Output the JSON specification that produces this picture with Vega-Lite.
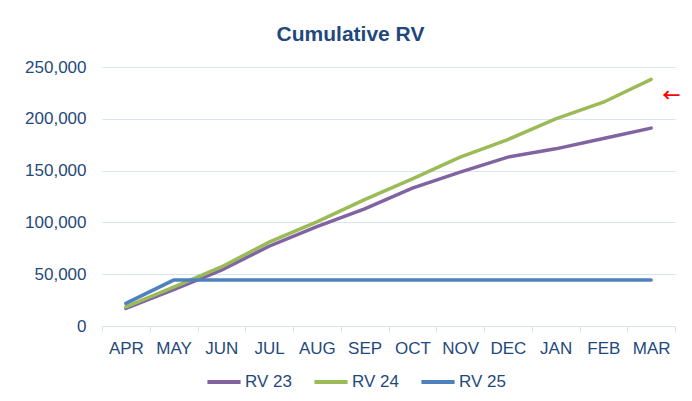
{
  "$schema": "https://vega.github.io/schema/vega-lite/v6.json",
  "autosize": {"type": "none"},
  "width": 573,
  "height": 259,
  "padding": {"left": 102, "top": 67, "right": 17, "bottom": 75},
  "background": "white",
  "title": {
    "text": "Cumulative RV",
    "font": "Liberation Sans",
    "fontSize": 21,
    "fontWeight": "bold",
    "color": "#1F497D",
    "baseline": "alphabetic",
    "offset": -4,
    "dx": -38
  },
  "config": {
    "view": {"stroke": null},
    "font": "Liberation Sans"
  },
  "data": {
    "values": [
      {"month": "APR", "series": "RV 23", "value": 17000},
      {"month": "MAY", "series": "RV 23", "value": 35000},
      {"month": "JUN", "series": "RV 23", "value": 54000},
      {"month": "JUL", "series": "RV 23", "value": 77000},
      {"month": "AUG", "series": "RV 23", "value": 96000},
      {"month": "SEP", "series": "RV 23", "value": 113000},
      {"month": "OCT", "series": "RV 23", "value": 133000},
      {"month": "NOV", "series": "RV 23", "value": 148500},
      {"month": "DEC", "series": "RV 23", "value": 163000},
      {"month": "JAN", "series": "RV 23", "value": 171000},
      {"month": "FEB", "series": "RV 23", "value": 181000},
      {"month": "MAR", "series": "RV 23", "value": 191000},
      {"month": "APR", "series": "RV 24", "value": 18500},
      {"month": "MAY", "series": "RV 24", "value": 37500},
      {"month": "JUN", "series": "RV 24", "value": 57000},
      {"month": "JUL", "series": "RV 24", "value": 81000},
      {"month": "AUG", "series": "RV 24", "value": 100500},
      {"month": "SEP", "series": "RV 24", "value": 122000},
      {"month": "OCT", "series": "RV 24", "value": 142000},
      {"month": "NOV", "series": "RV 24", "value": 163000},
      {"month": "DEC", "series": "RV 24", "value": 180000},
      {"month": "JAN", "series": "RV 24", "value": 200000},
      {"month": "FEB", "series": "RV 24", "value": 216000},
      {"month": "MAR", "series": "RV 24", "value": 238000},
      {"month": "APR", "series": "RV 25", "value": 21800},
      {"month": "MAY", "series": "RV 25", "value": 44300},
      {"month": "JUN", "series": "RV 25", "value": 44300},
      {"month": "JUL", "series": "RV 25", "value": 44300},
      {"month": "AUG", "series": "RV 25", "value": 44300},
      {"month": "SEP", "series": "RV 25", "value": 44300},
      {"month": "OCT", "series": "RV 25", "value": 44300},
      {"month": "NOV", "series": "RV 25", "value": 44300},
      {"month": "DEC", "series": "RV 25", "value": 44300},
      {"month": "JAN", "series": "RV 25", "value": 44300},
      {"month": "FEB", "series": "RV 25", "value": 44300},
      {"month": "MAR", "series": "RV 25", "value": 44300}
    ]
  },
  "layer": [
    {
      "mark": {"type": "line", "strokeWidth": 3.5, "strokeCap": "round"},
      "encoding": {
        "x": {
          "field": "month",
          "type": "nominal",
          "sort": ["APR", "MAY", "JUN", "JUL", "AUG", "SEP", "OCT", "NOV", "DEC", "JAN", "FEB", "MAR"],
          "scale": {"type": "band", "paddingInner": 0, "paddingOuter": 0},
          "axis": {
            "title": null,
            "labelAngle": 0,
            "labelFont": "Liberation Sans",
            "labelFontSize": 17,
            "labelColor": "#1F497D",
            "labelPadding": 8,
            "tickBand": "extent",
            "ticks": true,
            "tickSize": 6,
            "tickColor": "#D9E4F2",
            "domainColor": "#D9E4F2",
            "grid": false
          }
        },
        "y": {
          "field": "value",
          "type": "quantitative",
          "scale": {"domain": [0, 250000], "nice": false},
          "axis": {
            "title": null,
            "values": [0, 50000, 100000, 150000, 200000, 250000],
            "format": ",d",
            "labelFont": "Liberation Sans",
            "labelFontSize": 17,
            "labelColor": "#1F497D",
            "labelPadding": 16,
            "ticks": false,
            "domain": false,
            "gridColor": "#D9E4F2",
            "gridWidth": 1
          }
        },
        "color": {
          "field": "series",
          "type": "nominal",
          "scale": {"domain": ["RV 23", "RV 24", "RV 25"], "range": ["#8064A2", "#9BBB59", "#4F81BD"]},
          "legend": {
            "title": null,
            "orient": "none",
            "direction": "horizontal",
            "legendX": 103,
            "legendY": 296,
            "symbolType": "stroke",
            "symbolSize": 1100,
            "symbolStrokeWidth": 4,
            "labelFont": "Liberation Sans",
            "labelFontSize": 17,
            "labelColor": "#1F497D",
            "labelOffset": 2,
            "columnPadding": 14
          }
        }
      }
    },
    {
      "data": {"values": [{"month": "MAR", "value": 221000, "label": "←"}]},
      "mark": {"type": "text", "color": "#FF0000", "font": "Noto Sans CJK SC", "fontWeight": "bold", "fontSize": 18, "dx": 20},
      "encoding": {
        "x": {"field": "month", "type": "nominal", "sort": ["APR", "MAY", "JUN", "JUL", "AUG", "SEP", "OCT", "NOV", "DEC", "JAN", "FEB", "MAR"]},
        "y": {"field": "value", "type": "quantitative"},
        "text": {"field": "label"}
      }
    }
  ]
}
